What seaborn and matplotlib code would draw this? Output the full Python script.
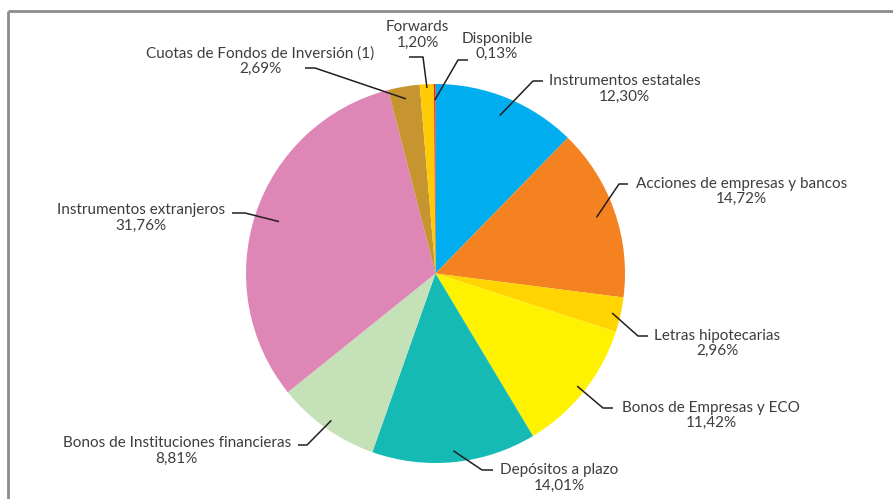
import matplotlib
matplotlib.use("Agg")
import numpy as np
import matplotlib.pyplot as plt
from matplotlib.lines import Line2D
import seaborn as sns

# Composición de la cartera (porcentaje del total)
categorias = [
    "Instrumentos estatales",
    "Acciones de empresas y bancos",
    "Letras hipotecarias",
    "Bonos de Empresas y ECO",
    "Depósitos a plazo",
    "Bonos de Instituciones financieras",
    "Instrumentos extranjeros",
    "Cuotas de Fondos de Inversión (1)",
    "Forwards",
    "Disponible",
]
porcentajes = [12.30, 14.72, 2.96, 11.42, 14.01, 8.81, 31.76, 2.69, 1.20, 0.13]
colores = ["#00AEEF", "#F58220", "#FFD400", "#FFF200", "#14BAB3",
           "#C5E1B8", "#DE87B7", "#C6952F", "#FFCB05", "#ED1C24"]

W, H = 893, 499

# Posición de cada rótulo en píxeles (y hacia abajo):
# radio relativo del inicio de la guía, codo, extremo horizontal, texto, alineación
rotulos = [
    (0.90, (533, 81), (543, 81), (549, 89), "left"),
    (0.90, (619, 184), (628, 184), (636, 191.5), "left"),
    (0.955, (638, 336), (648, 336), (654, 343.5), "left"),
    (0.955, (603, 408), (613, 408), (622, 415.5), "left"),
    (0.94, (482, 470), (493, 470), (500, 478), "left"),
    (0.95, (307, 445), (298, 445), (291, 451), "right"),
    (0.87, (245, 213), (232, 213), (225, 218), "right"),
    (0.935, (315, 68), (305, 68), (260, 61.5), "center"),
    (0.98, (423, 57), (409, 57), (417.5, 35), "center"),
    (0.915, (458, 60), (468, 60), (497, 46.5), "center"),
]

sns.set_theme(style="white")
plt.rcParams["font.family"] = ["Lato", "DejaVu Sans"]

fig = plt.figure(figsize=(W / 100, H / 100), dpi=100)
fig.patch.set_facecolor("white")
ax = fig.add_axes([0, 0, 1, 1])

centro = (435.5, H - 273.5)
radio = 189.5
cuñas, _ = ax.pie(
    porcentajes,
    colors=colores,
    startangle=90,
    counterclock=False,
    center=centro,
    radius=radio,
    wedgeprops=dict(linewidth=0),
)
ax.set_xlim(0, W)
ax.set_ylim(0, H)
ax.set_aspect("equal")
ax.axis("off")

color_texto = "#3d3d3d"
color_guia = "#231f20"

for cuña, nombre, valor, (f, codo, fin, pos, ha) in zip(cuñas, categorias, porcentajes, rotulos):
    medio = np.deg2rad((cuña.theta1 + cuña.theta2) / 2)
    sx = centro[0] + f * radio * np.cos(medio)
    sy = centro[1] + f * radio * np.sin(medio)
    ax.plot([sx, codo[0], fin[0]], [sy, H - codo[1], H - fin[1]],
            color=color_guia, lw=1.1, solid_capstyle="butt", zorder=3)
    texto = f"{nombre}\n{valor:.2f}".replace(".", ",") + "%"
    ax.text(pos[0], H - pos[1], texto, ha=ha, va="center", multialignment="center",
            fontsize=11, color=color_texto, linespacing=1.1)

# Marco superior e izquierdo
marco = dict(color="#8c8c8c", lw=2.0, solid_capstyle="butt")
fig.add_artist(Line2D([8 / W, 1], [1 - 11 / H, 1 - 11 / H], transform=fig.transFigure, **marco))
fig.add_artist(Line2D([8 / W, 8 / W], [0, 1 - 11 / H], transform=fig.transFigure, **marco))

fig.savefig("out.png", dpi=100, facecolor="white")
